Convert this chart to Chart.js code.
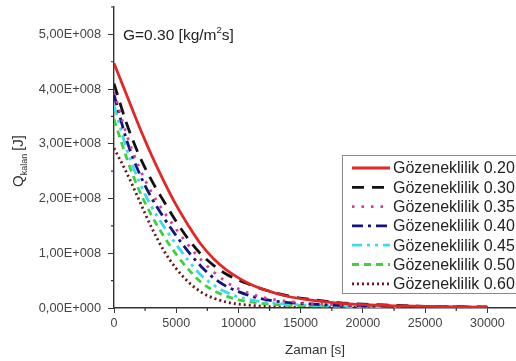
<!DOCTYPE html>
<html>
<head>
<meta charset="utf-8">
<script src="https://cdn.jsdelivr.net/npm/chart.js@4.4.1/dist/chart.umd.min.js"></script>
<style>
  html, body { margin: 0; padding: 0; background: #fff; }
  #wrap { width: 516px; height: 361px; }
</style>
</head>
<body>
<div id="wrap"><canvas id="chart" width="516" height="361"></canvas></div>
<script>
// zaman [s]
const zaman = [0, 1000, 2000, 3000, 4000, 5000, 6000, 7000, 8000, 9000, 10000,
    11000, 12000, 14000, 16000, 18000, 20000, 22500, 25000, 27500, 30000];

// Q_kalan, 1E+008 J biriminde
const q020 = [4.47, 3.90, 3.33, 2.80, 2.32, 1.88, 1.50, 1.16, 0.90, 0.70, 0.55, 0.43, 0.34, 0.21, 0.14, 0.09, 0.06, 0.04, 0.03, 0.02, 0.01];
const q030 = [4.10, 3.38, 2.80, 2.34, 1.95, 1.58, 1.25, 0.98, 0.78, 0.62, 0.51, 0.42, 0.34, 0.22, 0.15, 0.10, 0.07, 0.05, 0.03, 0.02, 0.02];
const q035 = [3.95, 3.18, 2.58, 2.12, 1.76, 1.44, 1.14, 0.88, 0.66, 0.48, 0.35, 0.26, 0.19, 0.12, 0.08, 0.06, 0.05, 0.04, 0.03, 0.02, 0.01];
const q040 = [3.90, 3.08, 2.48, 2.02, 1.65, 1.32, 1.02, 0.76, 0.55, 0.40, 0.30, 0.22, 0.16, 0.10, 0.07, 0.05, 0.04, 0.03, 0.02, 0.02, 0.01];
const q045 = [3.70, 2.92, 2.32, 1.86, 1.49, 1.16, 0.86, 0.60, 0.42, 0.29, 0.20, 0.15, 0.11, 0.07, 0.05, 0.04, 0.03, 0.02, 0.02, 0.01, 0.01];
const q050 = [3.45, 2.75, 2.16, 1.70, 1.31, 0.98, 0.70, 0.47, 0.32, 0.22, 0.15, 0.11, 0.08, 0.05, 0.04, 0.03, 0.02, 0.02, 0.01, 0.01, 0.01];
const q060 = [2.92, 2.48, 1.98, 1.48, 1.05, 0.72, 0.47, 0.29, 0.18, 0.11, 0.07, 0.05, 0.03, 0.02, 0.01, 0.01, 0.01, 0.01, 0.00, 0.00, 0.00];

const seriesLabels = ['Gözeneklilik 0.20', 'Gözeneklilik 0.30', 'Gözeneklilik 0.35',
    'Gözeneklilik 0.40', 'Gözeneklilik 0.45', 'Gözeneklilik 0.50', 'Gözeneklilik 0.60'];
const xTicks = [0, 5000, 10000, 15000, 20000, 25000, 30000];
const yTicks = [0, 1, 2, 3, 4, 5];

const FONT = "'Liberation Sans', Arial, sans-serif";

const lineStyles = [
    { color: '#e32626', dash: [] },
    { color: '#111111', dash: [12, 8] },
    { color: '#d8399e', dash: [2.5, 7] },
    { color: '#14147e', dash: [11, 5, 3, 5] },
    { color: '#3fdbe3', dash: [10, 5, 3, 5, 3, 5] },
    { color: '#3dd23d', dash: [7, 5] },
    { color: '#6e1414', dash: [2, 3] }
];

function makeDataset(label, values, style) {
    return {
        label: label,
        data: zaman.map((t, i) => ({ x: t, y: values[i] })),
        borderColor: style.color,
        borderDash: style.dash,
        borderWidth: 2.8,
        pointRadius: 0,
        fill: false,
        cubicInterpolationMode: 'monotone'
    };
}

const allValues = [q020, q030, q035, q040, q045, q050, q060];
const datasets = allValues.map((v, i) => makeDataset(seriesLabels[i], v, lineStyles[i]));

function formatY(v) {
    if (v === 0) return '0,00E+000';
    return v.toFixed(2).replace('.', ',') + 'E+008';
}

// ara çentikler
const minorTicks = {
    id: 'minorTicks',
    afterDraw(chart) {
        const ctx = chart.ctx;
        const xs = chart.scales.x, ys = chart.scales.y;
        ctx.save();
        ctx.strokeStyle = '#333';
        ctx.lineWidth = 1.2;
        ctx.beginPath();
        for (let v = 2500; v <= 32500; v += 5000) {
            const px = xs.getPixelForValue(v);
            if (px > chart.chartArea.right) break;
            ctx.moveTo(px, ys.bottom);
            ctx.lineTo(px, ys.bottom + 3);
        }
        for (let v = 0.5; v <= 5.5; v += 1) {
            const py = ys.getPixelForValue(v);
            ctx.moveTo(xs.left, py);
            ctx.lineTo(xs.left - 3, py);
        }
        ctx.stroke();
        ctx.restore();
    }
};

// başlık, eksen adı ve lejant
const annotations = {
    id: 'annotations',
    afterDraw(chart) {
        const ctx = chart.ctx;
        ctx.save();
        ctx.fillStyle = '#222';
        ctx.textBaseline = 'alphabetic';
        ctx.textAlign = 'left';

        // G=0.30 [kg/m2s]
        let x = 123, y = 40;
        ctx.font = '15.5px ' + FONT;
        let s1 = 'G=0.30 [kg/m';
        ctx.fillText(s1, x, y);
        x += ctx.measureText(s1).width;
        ctx.font = '9.5px ' + FONT;
        ctx.fillText('2', x, y - 7);
        x += ctx.measureText('2').width;
        ctx.font = '15.5px ' + FONT;
        ctx.fillText('s]', x, y);

        // Q_kalan [J]
        ctx.save();
        ctx.translate(23, 187);
        ctx.rotate(-Math.PI / 2);
        ctx.fillStyle = '#333';
        ctx.font = '15px ' + FONT;
        let qx = 0;
        ctx.fillText('Q', qx, 0);
        qx += ctx.measureText('Q').width;
        ctx.font = '9px ' + FONT;
        ctx.fillText('kalan', qx, 4);
        qx += ctx.measureText('kalan').width + 3;
        ctx.font = '15px ' + FONT;
        ctx.fillText('[J]', qx, 0);
        ctx.restore();

        // lejant
        const bx = 342, by = 155, bw = 180, bh = 138;
        ctx.fillStyle = '#fff';
        ctx.fillRect(bx, by, bw, bh);
        ctx.strokeStyle = '#8a8a8a';
        ctx.lineWidth = 1;
        ctx.strokeRect(bx + 0.5, by + 0.5, bw, bh);
        ctx.font = '16px ' + FONT;
        ctx.textBaseline = 'middle';
        chart.data.datasets.forEach((ds, i) => {
            const ry = by + 13 + i * 19.3;
            ctx.save();
            ctx.strokeStyle = ds.borderColor;
            ctx.lineWidth = ds.borderWidth;
            ctx.setLineDash(ds.borderDash);
            ctx.beginPath();
            ctx.moveTo(352, ry);
            ctx.lineTo(390, ry);
            ctx.stroke();
            ctx.restore();
            ctx.fillStyle = '#222';
            ctx.fillText(ds.label, 393, ry + 1);
        });
        ctx.restore();
    }
};

const config = {
    type: 'line',
    data: { datasets: datasets },
    options: {
        responsive: false,
        animation: false,
        layout: { padding: { top: 7, left: 0, right: 0, bottom: 0 } },
        plugins: {
            legend: { display: false },
            tooltip: { enabled: false }
        },
        scales: {
            x: {
                type: 'linear',
                min: 0,
                max: 32300,
                afterFit(scale) {
                    scale.height = 53;
                    scale.paddingLeft = 0;
                    scale.paddingRight = 0;
                },
                afterBuildTicks(scale) { scale.ticks = xTicks.map(v => ({ value: v })); },
                border: { color: '#333', width: 1.4 },
                grid: { drawOnChartArea: false, drawTicks: true, tickLength: 5, color: '#333' },
                ticks: {
                    color: '#444',
                    font: { family: FONT, size: 12.5 },
                    padding: 3,
                    maxRotation: 0,
                    callback: (v) => String(v)
                },
                title: {
                    display: true,
                    text: 'Zaman [s]',
                    color: '#333',
                    font: { family: FONT, size: 13.5 },
                    padding: { top: 3, bottom: 3 }
                }
            },
            y: {
                type: 'linear',
                min: 0,
                max: 5.5,
                afterFit(scale) {
                    scale.width = 114;
                    scale.paddingTop = 0;
                    scale.paddingBottom = 0;
                },
                afterBuildTicks(scale) { scale.ticks = yTicks.map(v => ({ value: v })); },
                border: { color: '#333', width: 1.4 },
                grid: { drawOnChartArea: false, drawTicks: true, tickLength: 6, color: '#333' },
                ticks: {
                    color: '#444',
                    font: { family: FONT, size: 12.8 },
                    padding: 7,
                    callback: (v) => formatY(v)
                }
            }
        }
    },
    plugins: [minorTicks, annotations]
};

new Chart(document.getElementById('chart'), config);
</script>
</body>
</html>
